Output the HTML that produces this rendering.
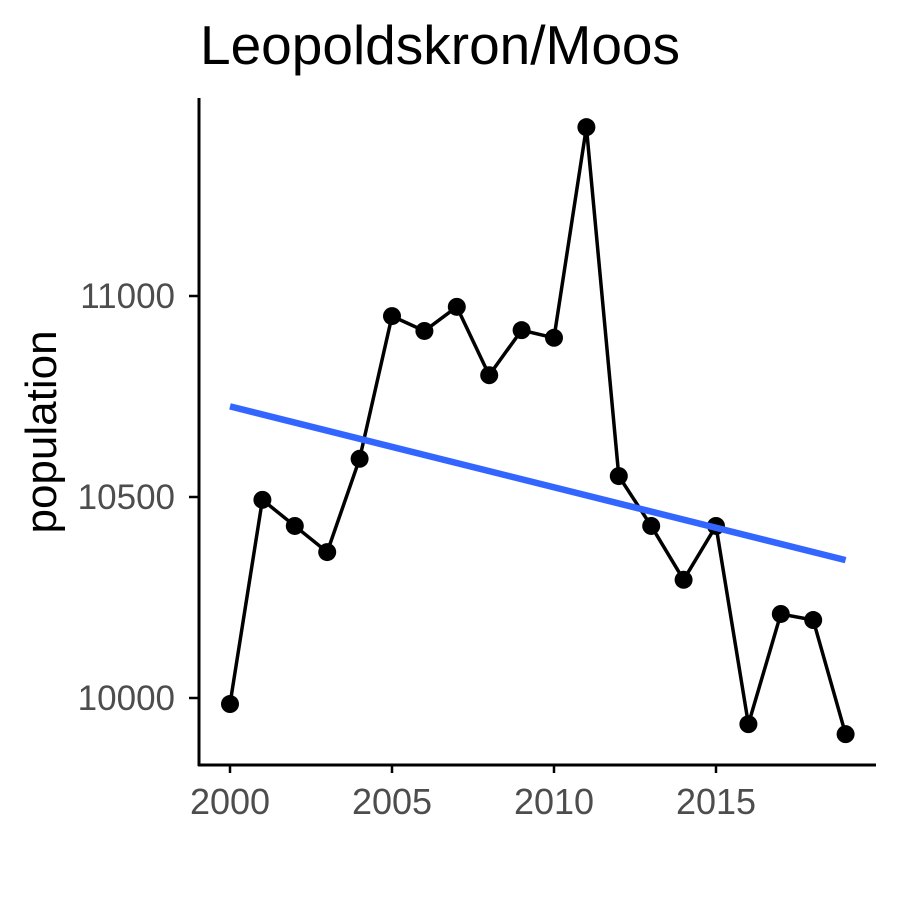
<!DOCTYPE html>
<html><head><meta charset="utf-8"><style>
body{margin:0;background:#fff;}
svg{display:block;font-family:"Liberation Sans",Arial,sans-serif;}
</style></head><body>
<svg id="chart" width="900" height="900" viewBox="0 0 900 900">
<rect width="900" height="900" fill="#fff"/>
<text x="200" y="64" font-size="55" fill="#000">Leopoldskron/Moos</text>
<text transform="translate(56,432) rotate(-90)" text-anchor="middle" font-size="44" fill="#000">population</text>
<g id="axes"></g>
<g id="marks"></g>
</svg>
<script>
const years=[2000,2001,2002,2003,2004,2005,2006,2007,2008,2009,2010,2011,2012,2013,2014,2015,2016,2017,2018,2019];
const population=[9985,10493,10428,10363,10595,10950,10913,10973,10803,10915,10896,11420,10552,10428,10294,10428,9935,10209,10194,9910];
const xTicks=[2000,2005,2010,2015];
const yTicks=[10000,10500,11000];
const NS="http://www.w3.org/2000/svg";
const xs=v=>230+(v-2000)*32.4;
const ys=v=>698-(v-10000)*0.402;
function mk(t,a,p){const e=document.createElementNS(NS,t);for(const k in a)e.setAttribute(k,a[k]);p.appendChild(e);return e;}
const axes=document.getElementById('axes'),marks=document.getElementById('marks');
let e=mk('line',{x1:199,y1:98,x2:199,y2:766,stroke:'#000','stroke-width':3},axes);


e=mk('line',{x1:198,y1:765,x2:876,y2:765,stroke:'#000','stroke-width':3},axes);


xTicks.forEach(v=>{
 const x=xs(v);
 let t=mk('line',{x1:x,y1:765,x2:x,y2:773,stroke:'#000','stroke-width':2.5},axes);
 
 
 let l=mk('text',{x:x,y:814,'text-anchor':'middle','font-size':36,fill:'#4d4d4d'},axes);l.textContent=v;
 
 
});
yTicks.forEach(v=>{
 const y=ys(v);
 let t=mk('line',{x1:189,y1:y,x2:199,y2:y,stroke:'#000','stroke-width':2.5},axes);
 
 
 let l=mk('text',{x:175,y:y+12,'text-anchor':'end','font-size':35,fill:'#4d4d4d'},axes);l.textContent=v;
 
 
});
let pts=years.map((y,i)=>xs(y)+','+ys(population[i])).join(' ');
let pl=mk('polyline',{points:pts,fill:'none',stroke:'#000','stroke-width':3.5},marks);


years.forEach((y,i)=>{
 const c=mk('circle',{cx:xs(y),cy:ys(population[i]),r:9,fill:'#000'},marks);
 
 
});
const n=years.length,mx=years.reduce((a,b)=>a+b)/n,my=population.reduce((a,b)=>a+b)/n;
let sxy=0,sxx=0;years.forEach((x,i)=>{sxy+=(x-mx)*(population[i]-my);sxx+=(x-mx)*(x-mx);});
const slope=sxy/sxx,icpt=my-slope*mx;
const x0=years[0],x1=years[n-1];
let tl=mk('line',{x1:xs(x0),y1:ys(icpt+slope*x0),x2:xs(x1),y2:ys(icpt+slope*x1),stroke:'#3366FF','stroke-width':6.5},marks);


</script>
</body></html>
